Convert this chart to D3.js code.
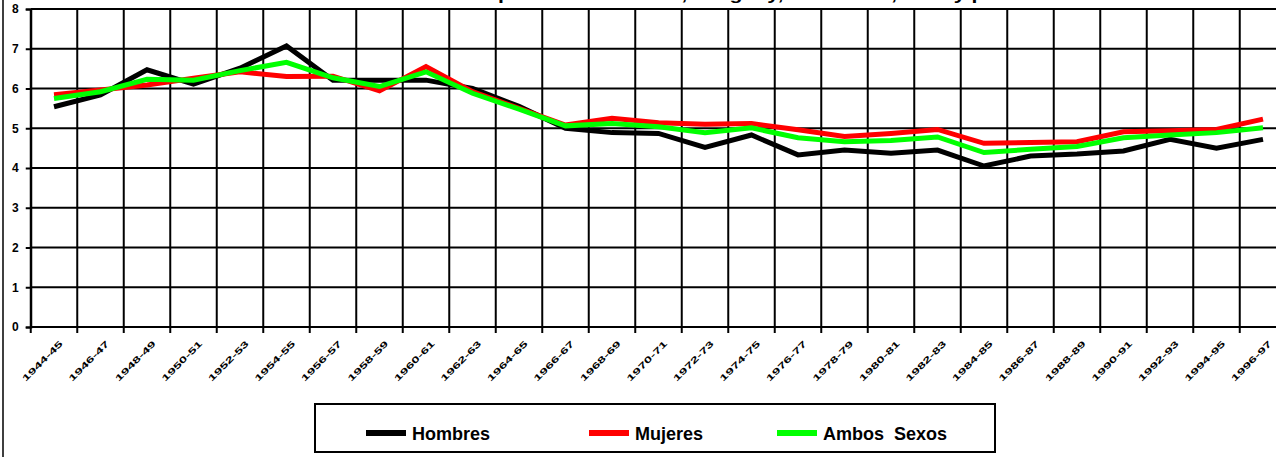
<!DOCTYPE html>
<html>
<head>
<meta charset="utf-8">
<script src="https://cdn.jsdelivr.net/npm/d3@7"></script>
<style>
  body { margin: 0; background: #fff; }
  svg { display: block; font-family: "Liberation Sans", Arial, sans-serif; }
</style>
</head>
<body>
<svg width="1276" height="457"></svg>
<script>
var svg = d3.select("svg"),
  width = +svg.attr("width"),
  height = +svg.attr("height");

// periodos (eje x)
var periodos = ["1944-45", "1946-47", "1948-49", "1950-51", "1952-53", "1954-55", "1956-57",
  "1958-59", "1960-61", "1962-63", "1964-65", "1966-67", "1968-69", "1970-71", "1972-73",
  "1974-75", "1976-77", "1978-79", "1980-81", "1982-83", "1984-85", "1986-87", "1988-89",
  "1990-91", "1992-93", "1994-95", "1996-97"];

var hombres = [5.54, 5.84, 6.47, 6.11, 6.51, 7.07, 6.21, 6.21, 6.21, 6.00, 5.55, 5.00, 4.89, 4.87,
  4.52, 4.83, 4.33, 4.45, 4.37, 4.45, 4.05, 4.30, 4.35, 4.43, 4.72, 4.50, 4.72];
var mujeres = [5.84, 5.96, 6.09, 6.26, 6.42, 6.30, 6.31, 5.94, 6.55, 5.92, 5.50, 5.08, 5.25, 5.14,
  5.10, 5.12, 4.96, 4.79, 4.87, 4.97, 4.62, 4.64, 4.66, 4.91, 4.94, 4.97, 5.23];
var ambos = [5.75, 5.92, 6.23, 6.21, 6.45, 6.66, 6.27, 6.05, 6.42, 5.88, 5.48, 5.06, 5.12, 5.04,
  4.89, 5.01, 4.76, 4.66, 4.69, 4.78, 4.39, 4.47, 4.54, 4.76, 4.83, 4.89, 5.01];

var yTicks = [0, 1, 2, 3, 4, 5, 6, 7, 8];

var series = [
  {name: "Hombres", values: hombres, color: "#000000"},
  {name: "Mujeres", values: mujeres, color: "#ff0000"},
  {name: "Ambos  Sexos", values: ambos, color: "#00ff00"}
];

// el grafico sigue mas alla del borde derecho (recortado)
var x = d3.scaleBand().domain(periodos).range([30.75, 30.75 + 46.5 * periodos.length]);
var y = d3.scaleLinear().domain([0, 8]).range([327, 9]);

// marco exterior
svg.append("rect")
  .attr("x", 3).attr("y", -10)
  .attr("width", width + 20).attr("height", height + 20)
  .attr("fill", "none").attr("stroke", "#000").attr("stroke-width", 1.5);

// titulo (cortado arriba, como en el original)
svg.append("text")
  .attr("x", 300).attr("y", 0)
  .attr("textLength", 760).attr("lengthAdjust", "spacingAndGlyphs")
  .style("font-weight", "bold").style("font-size", "17px")
  .text("Tasa de mortalidad por mil habitantes, Uruguay, 1944-1997, total y por sexo");

var g = svg.append("g");

// grilla horizontal
g.append("g").selectAll("line")
  .data(yTicks)
  .enter().append("line")
  .attr("x1", x.range()[0]).attr("x2", x.range()[1])
  .attr("y1", d => y(d)).attr("y2", d => y(d))
  .attr("stroke", "#000").attr("stroke-width", 2);

// grilla vertical (limites de categoria)
var bordes = periodos.map(d => x(d)).concat([x.range()[1]]);
g.append("g").selectAll("line")
  .data(bordes)
  .enter().append("line")
  .attr("x1", d => d).attr("x2", d => d)
  .attr("y1", y(8)).attr("y2", y(0) + 6)
  .attr("stroke", "#000").attr("stroke-width", 2);

// eje y
var yAxis = g.append("g")
  .attr("transform", "translate(" + x.range()[0] + ",0)")
  .call(d3.axisLeft(y).tickValues(yTicks).tickSize(5).tickPadding(7).tickFormat(d3.format("d")));
yAxis.select(".domain").attr("stroke-width", 2);
yAxis.selectAll(".tick line").attr("stroke-width", 2);
yAxis.selectAll("text")
  .style("font-size", "12px").style("font-weight", "bold")
  .style("font-family", "Liberation Sans, Arial, sans-serif");

// etiquetas del eje x
g.append("g").selectAll("text")
  .data(periodos)
  .enter().append("text")
  .attr("transform", d => "translate(" + (x(d) + x.bandwidth() / 2 + 5) + ",340) rotate(-45) scale(1,0.6)")
  .attr("text-anchor", "end")
  .attr("dy", "0.7em")
  .style("font-size", "14.5px").style("font-weight", "bold")
  .text(d => d);

// lineas de series
var line = d3.line()
  .x((d, i) => x(periodos[i]) + x.bandwidth() / 2)
  .y(d => y(d));

g.append("g").selectAll("path")
  .data(series)
  .enter().append("path")
  .attr("d", d => line(d.values))
  .attr("fill", "none")
  .attr("stroke", d => d.color)
  .attr("stroke-width", 5)
  .attr("stroke-linejoin", "miter");

// leyenda
var legend = svg.append("g");
legend.append("rect")
  .attr("x", 315).attr("y", 404)
  .attr("width", 680).attr("height", 48)
  .attr("fill", "#fff").attr("stroke", "#000").attr("stroke-width", 2);

var legX = [366, 589, 777];
var item = legend.selectAll("g.item")
  .data(series)
  .enter().append("g")
  .attr("class", "item")
  .attr("transform", (d, i) => "translate(" + legX[i] + ",433)");
item.append("line")
  .attr("x1", 0).attr("x2", 40)
  .attr("stroke", d => d.color).attr("stroke-width", 6);
item.append("text")
  .attr("x", 46).attr("y", 7)
  .style("font-size", "18px").style("font-weight", "bold")
  .style("white-space", "pre")
  .attr("xml:space", "preserve")
  .text(d => d.name);
</script>
</body>
</html>
